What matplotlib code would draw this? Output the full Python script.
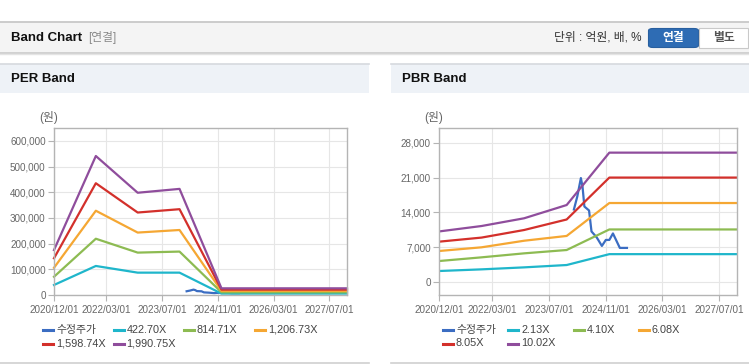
import pandas as pd
import numpy as np
import matplotlib
matplotlib.use('Agg')
import matplotlib.pyplot as plt
from matplotlib.patches import Rectangle, FancyBboxPatch
from matplotlib.lines import Line2D
from matplotlib.ticker import StrMethodFormatter

plt.rcParams['font.family'] = ['Liberation Sans', 'Noto Sans CJK KR']

W, H = 749, 364

# ---- data ----
band_dates = pd.to_datetime(['2020-12-01', '2021-12-01', '2022-12-01', '2023-12-01',
                             '2024-12-01', '2027-12-01'])

per_labels = ['422.70X', '814.71X', '1,206.73X', '1,598.74X', '1,990.75X']
per_4227 = [39000, 113000, 87000, 87000, 5500, 5500]
per_8147 = [71000, 219000, 165000, 169000, 10500, 10500]
per_12067 = [106000, 328000, 243000, 253000, 15800, 15800]
per_15987 = [143000, 435000, 321000, 334000, 21000, 21000]
per_19908 = [175000, 541000, 398000, 413000, 26000, 26000]

pbr_labels = ['2.13X', '4.10X', '6.08X', '8.05X', '10.02X']
pbr_213 = [2270, 2600, 3000, 3470, 5650, 5650]
pbr_410 = [4270, 5010, 5810, 6480, 10600, 10600]
pbr_608 = [6280, 7020, 8340, 9300, 15900, 15900]
pbr_805 = [8150, 8970, 10490, 12600, 21000, 21000]
pbr_1002 = [10200, 11290, 12840, 15500, 26000, 26000]

price_dates = pd.to_datetime(['2024-02-01', '2024-03-01', '2024-04-01', '2024-04-15',
                              '2024-05-01', '2024-06-10', '2024-07-01', '2024-08-15',
                              '2024-09-28', '2024-11-01', '2024-12-01', '2025-01-01',
                              '2025-03-01', '2025-05-01'])
price = [14600, 17200, 20900, 19200, 15200, 14400, 10200, 9000,
         7300, 8500, 8500, 9800, 6900, 6900]

xtick_dates = pd.to_datetime(['2020-12-01', '2022-03-01', '2023-07-01',
                              '2024-11-01', '2026-03-01', '2027-07-01'])
xtick_labels = ['2020/12/01', '2022/03/01', '2023/07/01',
                '2024/11/01', '2026/03/01', '2027/07/01']
per_yticks = [0, 100000, 200000, 300000, 400000, 500000, 600000]
pbr_yticks = [0, 7000, 14000, 21000, 28000]

price_color = '#3b6dc2'
band_colors = ['#1fb6cb', '#8dbb52', '#f5a733', '#d3302b', '#8f4d9c']


def fx(x):
    return x / W


def fy(y):
    return 1 - y / H


def rect(x, y, w, h, **kw):
    fig.add_artist(Rectangle((fx(x), fy(y + h)), w / W, h / H,
                             transform=fig.transFigure, **kw))


def hline(x0, x1, y, color, lw=1.0):
    fig.add_artist(Line2D([fx(x0), fx(x1)], [fy(y), fy(y)], color=color, lw=lw,
                          transform=fig.transFigure))


fig = plt.figure(figsize=(W / 100, H / 100), dpi=100)
fig.patch.set_facecolor('white')

# ---- page header ----
rect(0, 22, W, 30, facecolor='#f4f4f4', edgecolor='none')
hline(0, W, 22, '#c4c4c4', 1.2)
hline(0, W, 52.5, '#c8c8c8', 1.2)
hline(0, W, 54, '#e4e4e4', 1.0)
fig.text(fx(11), fy(38), 'Band Chart', fontsize=9.5, fontweight='bold', color='#111', va='center')
fig.text(fx(88), fy(38), '[연결]', fontsize=8.5, color='#8a8a8a', va='center')
fig.text(fx(641), fy(38), '단위 : 억원, 배, %', fontsize=8.5, color='#333', va='center', ha='right')
fig.add_artist(FancyBboxPatch((fx(648.5), fy(47.5)), 50 / W, 19 / H,
                              boxstyle='round,pad=0,rounding_size=0.006',
                              transform=fig.transFigure, facecolor='#2e6cb4',
                              edgecolor='#285f9f', lw=0.8))
rect(699, 28.5, 49, 19, facecolor='white', edgecolor='#c9c9c9', lw=0.8)
fig.text(fx(673.5), fy(38), '연결', fontsize=8.5, fontweight='bold', color='white', ha='center', va='center')
fig.text(fx(723.5), fy(38), '별도', fontsize=8.5, fontweight='bold', color='#555', ha='center', va='center')

# ---- panel frames ----
for x0, x1, title in [(0, 369, 'PER Band'), (391, 749, 'PBR Band')]:
    rect(x0, 64, x1 - x0, 29, facecolor='#eef2f7', edgecolor='none')
    hline(x0, x1, 64, '#d6d9de', 1.2)
    hline(x0, x1, 362.5, '#d0d0d0', 1.2)
    fig.text(fx(x0 + 11), fy(79), title, fontsize=9.5, fontweight='bold', color='#111', va='center')


def style_axis(ax, yticks, ylim):
    ax.set_xlim(pd.Timestamp('2020-12-01'), pd.Timestamp('2027-12-01'))
    ax.set_ylim(*ylim)
    ax.set_xticks(xtick_dates)
    ax.set_xticklabels(xtick_labels)
    ax.set_yticks(yticks)
    ax.yaxis.set_major_formatter(StrMethodFormatter('{x:,.0f}'))
    ax.grid(True, color='#e6e6e6', lw=0.8)
    ax.set_axisbelow(True)
    for s in ax.spines.values():
        s.set_color('#b4b4b4')
        s.set_linewidth(1.0)
    ax.tick_params(axis='both', colors='#b4b4b4', labelcolor='#666', labelsize=7.1,
                   length=4, width=0.8, pad=2)
    ax.tick_params(axis='x', pad=3)


def draw_legend(items, labels, colors):
    # items: pixel position where each label's text starts
    for (x, y), lab, c in zip(items, labels, colors):
        fig.add_artist(Line2D([fx(x - 13), fx(x - 3)], [fy(y), fy(y)], color=c, lw=2.2,
                              transform=fig.transFigure))
        fig.text(fx(x), fy(y), lab, fontsize=7.8, color='#444', va='center')


# ---- PER band ----
ax1 = fig.add_axes([fx(54), fy(295), (347 - 54) / W, (295 - 128) / H])
ax1.plot(price_dates, price, color=price_color, lw=1.6, clip_on=False)
for vals, c in zip([per_4227, per_8147, per_12067, per_15987, per_19908], band_colors):
    ax1.plot(band_dates, vals, color=c, lw=1.6, clip_on=False)
style_axis(ax1, per_yticks, (0, 650000))
fig.text(fx(49), fy(117), '(원)', fontsize=8.5, color='#666', ha='center', va='center')
draw_legend([(56, 330), (126.5, 330), (196.5, 330), (268, 330), (56, 343.5), (126.5, 343.5)],
            ['수정주가'] + per_labels, [price_color] + band_colors)

# ---- PBR band ----
ax2 = fig.add_axes([fx(439), fy(295), (737 - 439) / W, (295 - 128) / H])
ax2.plot(price_dates, price, color=price_color, lw=1.6)
for vals, c in zip([pbr_213, pbr_410, pbr_608, pbr_805, pbr_1002], band_colors):
    ax2.plot(band_dates, vals, color=c, lw=1.6)
style_axis(ax2, pbr_yticks, (-2540, 30940))
fig.text(fx(434), fy(117), '(원)', fontsize=8.5, color='#666', ha='center', va='center')
draw_legend([(456, 330), (521, 330), (586.5, 330), (651.5, 330), (456, 343.5), (521, 343.5)],
            ['수정주가'] + pbr_labels, [price_color] + band_colors)

fig.savefig('out.png', dpi=100)
